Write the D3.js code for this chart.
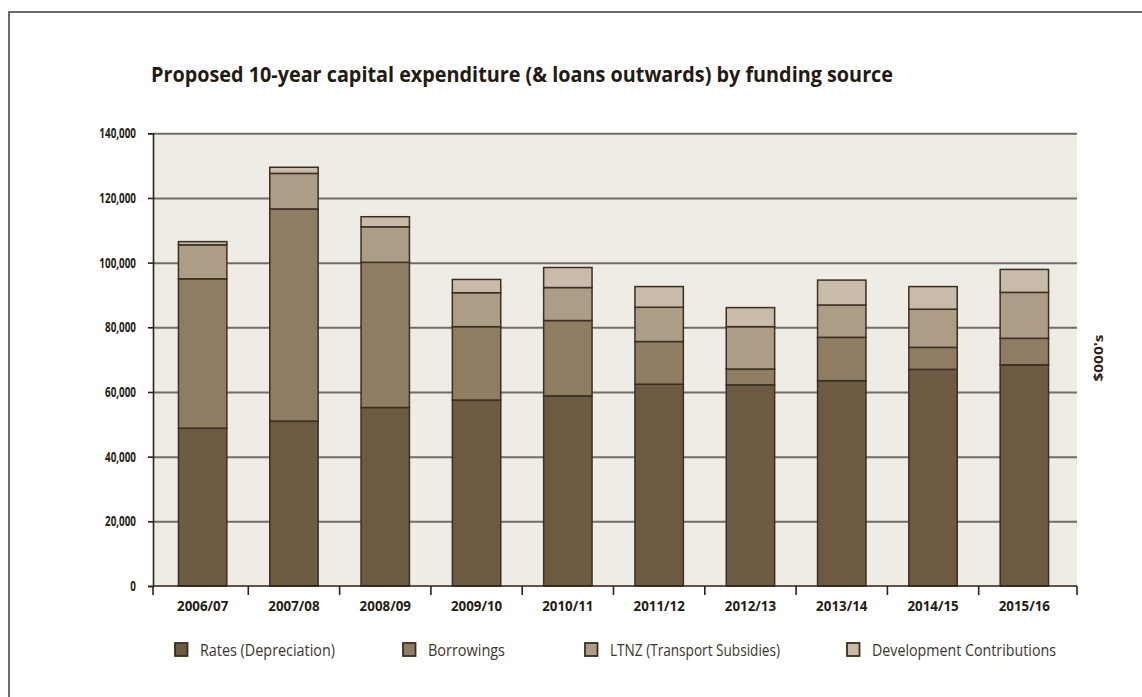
<!DOCTYPE html>
<meta charset="utf-8">
<style>
body { margin: 0; background: #fff; }
text { font-family: "Open Sans", "DejaVu Sans", sans-serif; }
.grid line { stroke: #716d66; stroke-width: 2px; }
.grid path { stroke-width: 0; }
.seg { stroke: #3a2f20; stroke-width: 1.5px; }
</style>
<body>
<script src="https://d3js.org/d3.v7.min.js"></script>
<script>

// data ($000's)
var years = ["2006/07", "2007/08", "2008/09", "2009/10", "2010/11",
             "2011/12", "2012/13", "2013/14", "2014/15", "2015/16"];
var rates       = [48800, 51000, 55200, 57500, 58800, 62400, 62200, 63500, 67000, 68400];
var borrowings  = [46200, 65600, 44900, 22700, 23300, 13200,  4900, 13400,  6800,  8200];
var ltnz        = [10500, 11000, 11000, 10500, 10200, 10600, 13100, 10000, 11800, 14200];
var devContrib  = [ 1000,  1900,  3100,  4100,  6200,  6400,  5900,  7700,  7000,  7100];
var seriesNames = ["Rates (Depreciation)", "Borrowings", "LTNZ (Transport Subsidies)", "Development Contributions"];
var yTicks = [0, 20000, 40000, 60000, 80000, 100000, 120000, 140000];

var colors = ["#6c5b42", "#8e7d62", "#ae9d86", "#c9bba9"];
var keys = ["rates", "borrowings", "ltnz", "dev"];

// layout
var W = 1142, H = 697;
var plot = {left: 153, right: 1077, top: 133.3, bottom: 586};

var table = years.map(function(y, i) {
  return {year: y, rates: rates[i], borrowings: borrowings[i], ltnz: ltnz[i], dev: devContrib[i]};
});

var svg = d3.select("body").append("svg")
    .attr("width", W)
    .attr("height", H);

// outer frame
svg.append("rect")
    .attr("x", 9).attr("y", 12)
    .attr("width", W + 20).attr("height", H + 20)
    .attr("fill", "none")
    .attr("stroke", "#6f6c66")
    .attr("stroke-width", 2);

var x = d3.scaleBand()
    .domain(years)
    .range([157, 1070])
    .paddingInner(0.47)
    .paddingOuter(0.235);

var y = d3.scaleLinear()
    .domain([0, 140000])
    .range([plot.bottom, plot.top]);

// squeeze text to a condensed width
function condense(sel, f) {
  sel.each(function() {
    var w = this.getComputedTextLength();
    d3.select(this).attr("textLength", w * f).attr("lengthAdjust", "spacingAndGlyphs");
  });
}

// plot background
svg.append("rect")
    .attr("x", plot.left).attr("y", plot.top)
    .attr("width", plot.right - plot.left)
    .attr("height", plot.bottom - plot.top)
    .attr("fill", "#efece6");

// gridlines
svg.append("g")
    .attr("class", "grid")
    .attr("transform", "translate(" + plot.left + ",0)")
    .call(d3.axisLeft(y).tickValues(yTicks.slice(1)).tickSize(-(plot.right - plot.left)).tickFormat(""));

// stacked bars
var stack = d3.stack().keys(keys);
var layers = stack(table);

svg.append("g").selectAll("g")
  .data(layers)
  .join("g")
    .attr("fill", function(d, i) { return colors[i]; })
  .selectAll("rect")
  .data(function(d) { return d; })
  .join("rect")
    .attr("class", "seg")
    .attr("x", function(d) { return x(d.data.year); })
    .attr("width", x.bandwidth())
    .attr("y", function(d) { return y(d[1]); })
    .attr("height", function(d) { return y(d[0]) - y(d[1]); });

// y axis
var yAxis = svg.append("g")
    .attr("transform", "translate(" + plot.left + ",0)")
    .call(d3.axisLeft(y).tickValues(yTicks).tickSize(5).tickPadding(12).tickFormat(d3.format(",")));
yAxis.select(".domain").attr("stroke", "#2a2218").attr("stroke-width", 1.6);
yAxis.selectAll(".tick line").attr("stroke", "#2a2218").attr("stroke-width", 1.6);
yAxis.selectAll("text")
    .attr("fill", "#241c14")
    .style("font-size", "14.5px")
    .style("font-weight", "bold")
    .call(condense, 0.68);

// x axis: labels at band centres, ticks at band edges
var xAxis = svg.append("g")
    .attr("transform", "translate(0," + plot.bottom + ")")
    .call(d3.axisBottom(x).tickSize(0).tickPadding(15));
xAxis.select(".domain").remove();
xAxis.selectAll("text")
    .attr("fill", "#241c14")
    .style("font-size", "14.5px")
    .style("font-weight", "bold")
    .call(condense, 0.92);

var edges = [plot.left].concat(years.slice(1).map(function(d) {
  return x(d) - x.step() * x.paddingInner() / 2;
})).concat([plot.right]);

svg.append("line")
    .attr("x1", plot.left).attr("x2", plot.right)
    .attr("y1", plot.bottom).attr("y2", plot.bottom)
    .attr("stroke", "#2a2218").attr("stroke-width", 1.6);
svg.append("g").selectAll("line")
  .data(edges)
  .join("line")
    .attr("x1", function(d) { return d; }).attr("x2", function(d) { return d; })
    .attr("y1", plot.bottom).attr("y2", plot.bottom + 9)
    .attr("stroke", "#2a2218").attr("stroke-width", 1.6);

// title
svg.append("text")
    .attr("x", 151).attr("y", 82)
    .attr("textLength", 742).attr("lengthAdjust", "spacingAndGlyphs")
    .style("font-size", "21px")
    .style("font-weight", "bold")
    .attr("fill", "#231a12")
    .text("Proposed 10-year capital expenditure (& loans outwards) by funding source");

// unit label
svg.append("text")
    .attr("transform", "translate(1103,358) rotate(-90)")
    .attr("text-anchor", "middle")
    .attr("textLength", 47).attr("lengthAdjust", "spacingAndGlyphs")
    .style("font-size", "13px")
    .style("font-weight", "bold")
    .attr("fill", "#2a2218")
    .text("$000's");

// legend
var legendX = [175, 403, 585, 847];
var legendW = [135, 77, 170, 184];
var legend = svg.append("g").selectAll("g")
  .data(seriesNames)
  .join("g")
    .attr("transform", function(d, i) { return "translate(" + legendX[i] + ",643)"; });
legend.append("rect")
    .attr("width", 12.5).attr("height", 13)
    .attr("fill", function(d, i) { return colors[i]; })
    .attr("stroke", "#3a2f20").attr("stroke-width", 1.8);
legend.append("text")
    .attr("x", 25).attr("y", 12.5)
    .attr("textLength", function(d, i) { return legendW[i]; })
    .attr("lengthAdjust", "spacingAndGlyphs")
    .style("font-size", "16px")
    .attr("fill", "#3a3530")
    .text(function(d) { return d; });

</script>
</body>
